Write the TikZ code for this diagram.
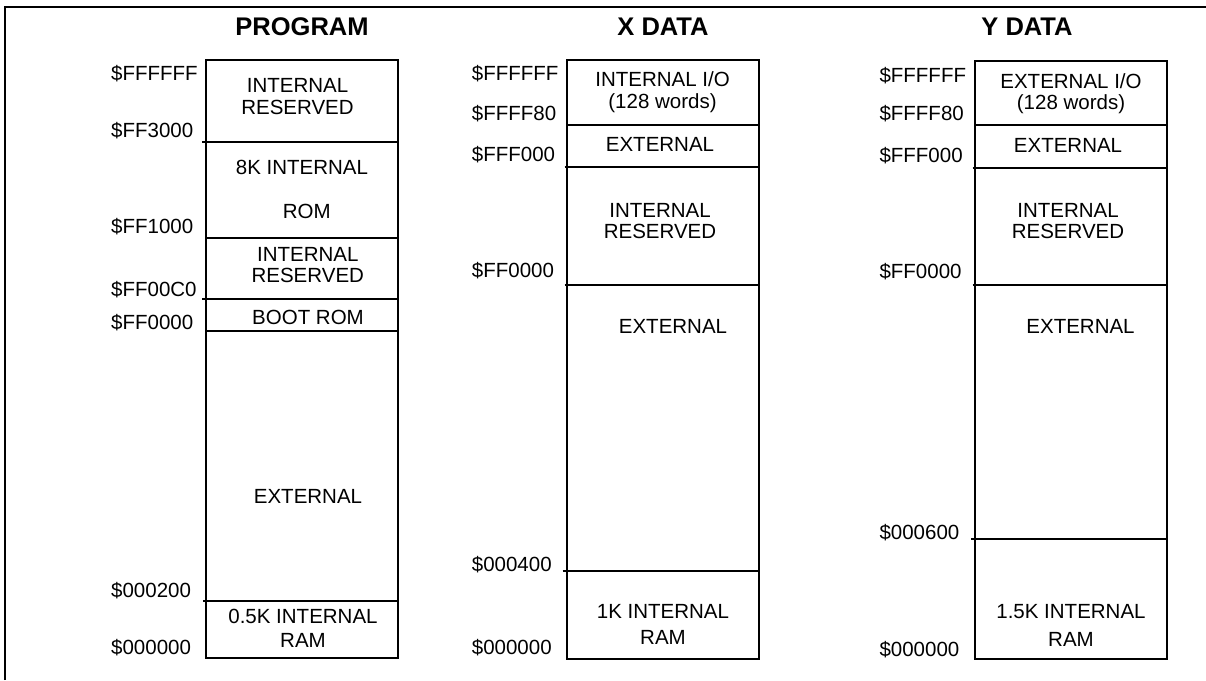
\documentclass[tikz,border=0pt]{standalone}
\usepackage{fontspec}
\setmainfont{Liberation Sans}
\usepackage{tikz}

\tikzset{
  region/.style={inner sep=0pt, align=center, font=\fontsize{20.5}{21.5}\selectfont},
  addr/.style={inner sep=0pt, anchor=west, font=\fontsize{20.5}{21.5}\selectfont},
  maptitle/.style={inner sep=0pt, font=\fontsize{25.5}{27}\selectfont\bfseries},
  mapline/.style={line width=1.7pt}
}

\begin{document}
\begin{tikzpicture}[x=1pt,y=-1pt]
  \useasboundingbox (0,0) rectangle (1206,680);
  % Draw frame
  \draw[line width=2pt] (5,680) -- (5,7) -- (1206,7);

  % Draw program memory
  \node[maptitle] (progtitle) at (302,27) {PROGRAM};
  \draw[mapline] (206,60) rectangle (398,658);
  \draw[mapline] (202,141.7) -- (398,141.7);
  \draw[mapline] (206,238) -- (398,238);
  \draw[mapline] (202,298.7) -- (398,298.7);
  \draw[mapline] (206,331) -- (398,331);
  \draw[mapline] (203,600.7) -- (398,600.7);
  \node[addr] (pffffff) at (111,74) {\$FFFFFF};
  \node[addr] (pff3000) at (111,131) {\$FF3000};
  \node[addr] (pff1000) at (111,227) {\$FF1000};
  \node[addr] (pff00c0) at (111,290) {\$FF00C0};
  \node[addr] (pff0000) at (111,323) {\$FF0000};
  \node[addr] (p000200) at (111,591) {\$000200};
  \node[addr] (p000000) at (111,648) {\$000000};
  \node[region] (presv) at (297.5,96.5) {INTERNAL\\RESERVED};
  \node[region] (prom) at (302,167.5) {8K INTERNAL};
  \node[region] (promb) at (306.7,211) {ROM};
  \node[region] (presvb) at (307.8,265) {INTERNAL\\RESERVED};
  \node[region] (pboot) at (308,317) {BOOT ROM};
  \node[region] (pext) at (308,496) {EXTERNAL};
  \node[region] (pram) at (303,628.5) {0.5K INTERNAL\\[3pt]RAM};

  % Draw X data memory
  \node[maptitle] (xtitle) at (663,27) {X DATA};
  \draw[mapline] (566.7,60) rectangle (759.3,659);
  \draw[mapline] (566.7,125) -- (759.3,125);
  \draw[mapline] (564.7,166.7) -- (759.3,166.7);
  \draw[mapline] (564.7,285) -- (759.3,285);
  \draw[mapline] (562.7,570.7) -- (759.3,570.7);
  \node[addr] (xffffff) at (471.7,74) {\$FFFFFF};
  \node[addr] (xffff80) at (471.7,114) {\$FFFF80};
  \node[addr] (xfff000) at (471.7,155) {\$FFF000};
  \node[addr] (xff0000) at (471.7,271) {\$FF0000};
  \node[addr] (x000400) at (471.7,565) {\$000400};
  \node[addr] (x000000) at (471.7,648) {\$000000};
  \node[region] (xio) at (662.5,92) {INTERNAL I/O\\(128 words)};
  \node[region] (xext) at (660,144) {EXTERNAL};
  \node[region] (xresv) at (660,221) {INTERNAL\\RESERVED};
  \node[region] (xextb) at (673,326) {EXTERNAL};
  \node[region] (xram) at (663,624.5) {1K INTERNAL\\[5pt]RAM};

  % Draw Y data memory
  \node[maptitle] (ytitle) at (1027,27) {Y DATA};
  \draw[mapline] (975,60.7) rectangle (1167.3,659);
  \draw[mapline] (975,125.3) -- (1167.3,125.3);
  \draw[mapline] (972.7,167.7) -- (1167.3,167.7);
  \draw[mapline] (972.7,285) -- (1167.3,285);
  \draw[mapline] (971,539) -- (1167.3,539);
  \node[addr] (yffffff) at (879.3,76) {\$FFFFFF};
  \node[addr] (yffff80) at (879.3,114) {\$FFFF80};
  \node[addr] (yfff000) at (879.3,156) {\$FFF000};
  \node[addr] (yff0000) at (879.3,272) {\$FF0000};
  \node[addr] (y000600) at (879.3,533) {\$000600};
  \node[addr] (y000000) at (879.3,650) {\$000000};
  \node[region] (yio) at (1071,93.5) {EXTERNAL I/O\\(128 words)};
  \node[region] (yext) at (1068,145) {EXTERNAL};
  \node[region] (yresv) at (1068,221) {INTERNAL\\RESERVED};
  \node[region] (yextb) at (1080.5,326) {EXTERNAL};
  \node[region] (yram) at (1071,625.5) {1.5K INTERNAL\\[7pt]RAM};
\end{tikzpicture}
\end{document}
